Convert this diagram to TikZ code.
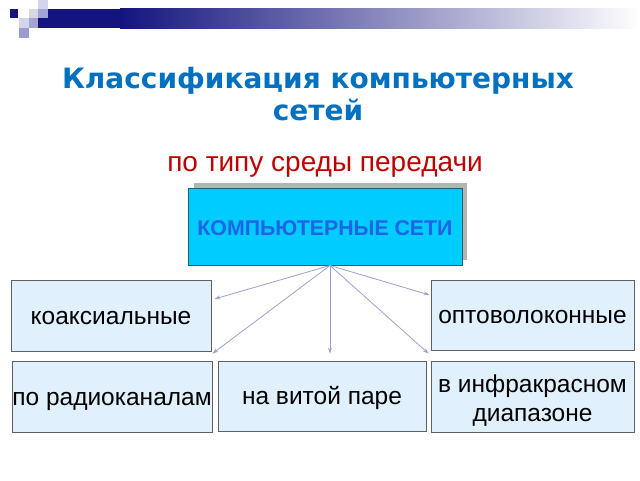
\documentclass[tikz,border=0pt]{standalone}
\usepackage{fontspec}
\setmainfont{Liberation Sans}
\newfontfamily\titlefont{DejaVu Sans}
\usetikzlibrary{arrows.meta}
\definecolor{navy}{HTML}{14147E}
\definecolor{sqlight}{HTML}{D4D4EC}
\definecolor{sqmid}{HTML}{A4A4D4}
\definecolor{sqgrey}{HTML}{D8D8E4}
\definecolor{titleblue}{HTML}{0070C0}
\definecolor{subred}{HTML}{C00000}
\definecolor{boxfill}{HTML}{E0F0FC}
\definecolor{boxline}{HTML}{606060}
\definecolor{mainfill}{HTML}{00CCFF}
\definecolor{mainline}{HTML}{1F6070}
\definecolor{maintext}{HTML}{1E64E6}
\definecolor{arrowc}{HTML}{A0A0D0}
\definecolor{shadowc}{HTML}{B4B4B4}
\tikzset{
  leaf/.style={draw=boxline, line width=0.8pt, fill=boxfill, inner sep=0pt, align=center,
    font=\fontsize{24.5}{29}\selectfont, text=black},
  oneline/.style={text height=22.5pt, text depth=5pt},
  conn/.style={draw=arrowc, line width=0.8pt, -{Stealth[length=6pt,width=4pt]}},
}
\begin{document}
\begin{tikzpicture}[x=1pt,y=-1pt]
\useasboundingbox (0,0) rectangle (640,480);
\fill[white] (0,0) rectangle (640,480);
% top decoration
\fill[navy] (38,8.5) rectangle (120,28);
\shade[left color=navy, right color=white] (120,8.5) rectangle (640,28);
\fill[navy] (9.5,9) rectangle (18,17.5);
\fill[sqgrey] (28.5,9) rectangle (38,18);
\fill[sqlight] (38,0) rectangle (47.5,8.5);
\fill[sqmid] (38,8.5) rectangle (47.5,18);
\fill[sqlight] (19,18) rectangle (28.5,28);
\fill[sqmid] (28.5,18) rectangle (38,28);
\fill[sqmid!110] (19,28) rectangle (28.5,37.5);
% titles
\node[font=\titlefont\bfseries\fontsize{28}{32}\selectfont, text=titleblue, align=center] (title) at (318,94) {Классификация компьютерных\\сетей};
\node[font=\fontsize{28}{32}\selectfont, text=subred] (sub) at (325,167) {по типу среды передачи};
% main box
\fill[shadowc] (194,183) rectangle (467,260);
\node[draw=mainline, line width=1pt, fill=mainfill, minimum width=274pt, minimum height=77pt, inner sep=0pt,
  text height=18.3pt, text depth=0pt,
  font=\bfseries\fontsize{21.3}{24}\selectfont, text=maintext] (main) at (325,226.5) {КОМПЬЮТЕРНЫЕ СЕТИ};
% leaves
\node[leaf, oneline, minimum width=200pt, minimum height=71pt] (koax) at (111,315.5) {коаксиальные};
\node[leaf, oneline, minimum width=203pt, minimum height=70pt] (opto) at (532.5,315) {оптоволоконные};
\node[leaf, oneline, minimum width=200pt, minimum height=71pt] (radio) at (112,396.5) {по радиоканалам};
\node[leaf, oneline, minimum width=208pt, minimum height=70pt] (twisted) at (322,396) {на витой паре};
\node[leaf, text height=54pt, text depth=5pt, minimum width=203pt, minimum height=71pt] (ir) at (532.5,396.5) {в инфракрасном\\диапазоне};
% connectors
\coordinate (apex) at ([xshift=5pt]main.south);
\draw[conn] (apex) -- ([shift={(3pt,16.5pt)}]koax.east);
\draw[conn] (apex) -- ([yshift=7pt]radio.north east);
\draw[conn] (apex) -- ([yshift=7pt]twisted.north -| apex);
\draw[conn] (apex) -- ([shift={(-2pt,7pt)}]ir.north west);
\draw[conn] (apex) -- ([shift={(-1pt,20pt)}]opto.west);
\end{tikzpicture}
\end{document}
